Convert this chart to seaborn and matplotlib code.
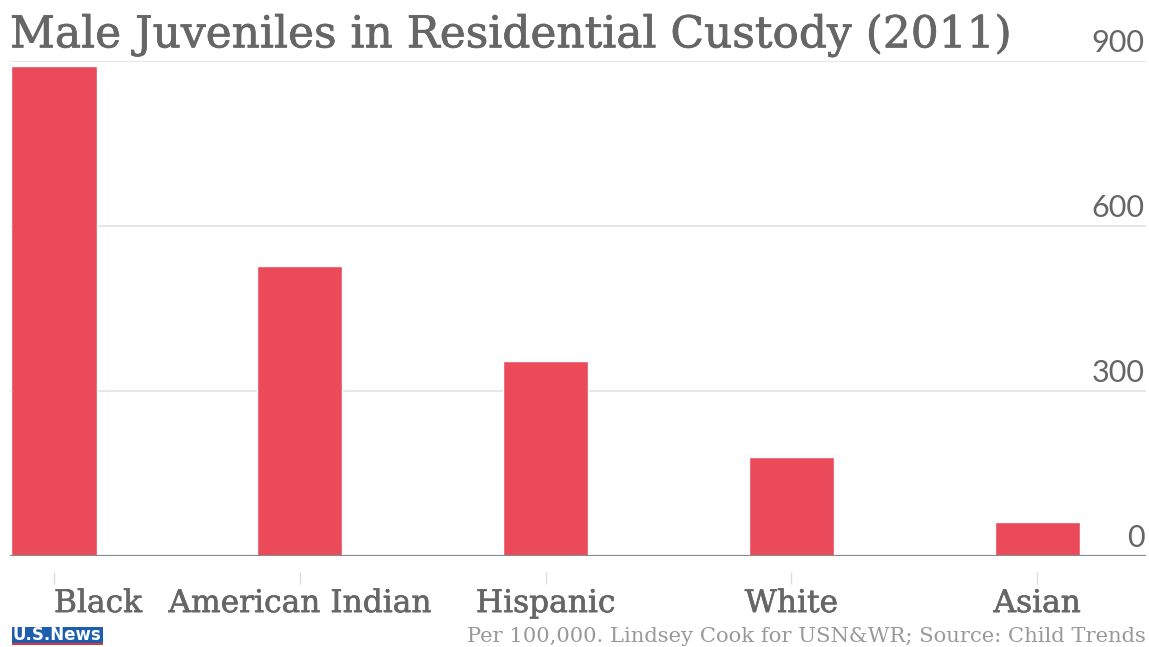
import matplotlib
matplotlib.use("Agg")
import matplotlib.pyplot as plt
import matplotlib.patches as mpatches
import matplotlib.patheffects as pe
import seaborn as sns
import pandas as pd

categories = ["Black", "American Indian", "Hispanic", "White", "Asian"]
values = [891, 527, 355, 180, 62]
yticks = [0, 300, 600, 900]
ytick_labels = ["0", "300", "600", "900"]
title = "Male Juveniles in Residential Custody (2011)"
footer = "Per 100,000. Lindsey Cook for USN&WR; Source: Child Trends"

sns.set_style("white")
plt.rcParams["font.family"] = ["DejaVu Serif"]

df = pd.DataFrame({"group": categories, "rate": values})

W, H = 1149, 647
fig = plt.figure(figsize=(W / 100, H / 100), dpi=100)
ax = fig.add_axes([10 / W, 1 - 556 / H, 1136 / W, (556 - 61) / H])

sns.barplot(data=df, x="group", y="rate", color="#EA4A5A", saturation=1,
            width=0.346, ax=ax, order=categories)

ax.set_xlim(-0.179, 4.443)
ax.set_ylim(0, 900)
ax.set_xlabel("")
ax.set_ylabel("")

# gridlines
ax.set_yticks(yticks)
ax.yaxis.grid(True, color="#e3e3e3", linewidth=1.2)
ax.set_axisbelow(True)
ax.tick_params(axis="y", length=0, labelleft=False)
for t, lab in zip(yticks, ytick_labels):
    ax.annotate(lab, xy=(1.0, t), xycoords=("axes fraction", "data"),
                xytext=(-1, 6.5), textcoords="offset points",
                ha="right", va="baseline", fontsize=22, family="Lato",
                color="#666666")

for s in ["top", "right", "left", "bottom"]:
    ax.spines[s].set_visible(False)
ax.axhline(0, color="#8a8a8a", linewidth=1.6, zorder=3)

thick = [pe.withStroke(linewidth=0.45, foreground="#666666")]

# x ticks offset below the baseline
ax.spines["bottom"].set_position(("outward", 11.5))
ax.tick_params(axis="x", length=8.6, width=1, color="#dddddd", pad=3,
               labelsize=22.5, labelcolor="#666666", bottom=True)
for lbl in ax.get_xticklabels():
    lbl.set_path_effects(thick)
ax.get_xticklabels()[0].set_ha("left")

fig.text(10 / W, 1 - 35 / H, title, ha="left", va="center",
         fontsize=31.6, color="#666666", family="DejaVu Serif",
         path_effects=[pe.withStroke(linewidth=0.55, foreground="#666666")])

fig.text(1146 / W, 1 - 637 / H, footer, ha="right", va="center",
         fontsize=15.2, color="#999999", family="DejaVu Serif")

# US News mark
fig.add_artist(mpatches.Rectangle((12 / W, 1 - 645 / H), 91 / W, 18 / H,
                                  transform=fig.transFigure,
                                  facecolor="#1d5fae", edgecolor="none"))
fig.add_artist(mpatches.Rectangle((12 / W, 1 - 645 / H), 91 / W, 2 / H,
                                  transform=fig.transFigure,
                                  facecolor="#d9363e", edgecolor="none"))
fig.text(57 / W, 1 - 635 / H, "U.S.News", ha="center", va="center",
         fontsize=12, color="white", family="DejaVu Sans", weight="bold")

fig.savefig("out.png", dpi=100)
